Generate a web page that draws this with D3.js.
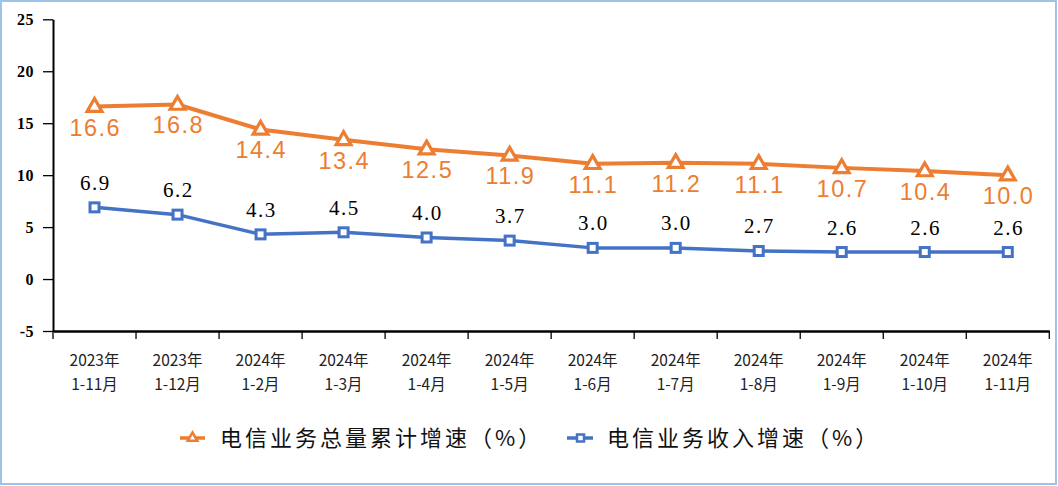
<!DOCTYPE html>
<html><head><meta charset="utf-8">
<script src="https://cdn.jsdelivr.net/npm/d3@7"></script>
<style>
html,body{margin:0;padding:0;background:#fff;}
svg{display:block;}
</style></head>
<body>
<svg id="chart" width="1058" height="486"></svg>
<script>
const years = ["2023年","2023年","2024年","2024年","2024年","2024年","2024年","2024年","2024年","2024年","2024年","2024年"];
const periods = ["1-11月","1-12月","1-2月","1-3月","1-4月","1-5月","1-6月","1-7月","1-8月","1-9月","1-10月","1-11月"];
const totalVolume = [16.6,16.8,14.4,13.4,12.5,11.9,11.1,11.2,11.1,10.7,10.4,10.0];
const revenue = [6.9,6.2,4.3,4.5,4.0,3.7,3.0,3.0,2.7,2.6,2.6,2.6];
const yTicks = [-5,0,5,10,15,20,25];
const seriesNames = ["电信业务总量累计增速（%）","电信业务收入增速（%）"];

const orange = "#ED7D31", blue = "#4472C4";
const svg = d3.select("#chart");
const idx = d3.range(years.length);

// border
svg.append("rect").attr("x",1).attr("y",1).attr("width",1055).attr("height",483)
  .attr("fill","#fff").attr("stroke","#9dc3e6").attr("stroke-width",2);

const x = d3.scaleBand().domain(idx).range([53,1049.3]).padding(0);
const y = d3.scaleLinear().domain([-5,25]).range([331,19.3]);
const cx = i => x(i) + x.bandwidth()/2;

// Y axis
const yAxis = svg.append("g").attr("transform","translate(53,0)")
  .call(d3.axisLeft(y).tickValues(yTicks).tickSize(10).tickSizeOuter(0).tickFormat(d => String(d)));
yAxis.select(".domain").attr("stroke","#000").attr("stroke-width",2);
yAxis.selectAll(".tick line").attr("stroke","#000").attr("stroke-width",1.3);
yAxis.selectAll(".tick text").attr("x",-19).attr("fill","#000")
  .style("font-family","'Liberation Serif','Times New Roman',serif").style("font-weight","bold")
  .style("font-size","16px").style("letter-spacing","0.5px");

// X axis
const xAxis = svg.append("g").attr("transform","translate(0,331)")
  .call(d3.axisBottom(x).tickSize(0).tickFormat(""));
xAxis.select(".domain").attr("stroke","#000").attr("stroke-width",2.5);
xAxis.selectAll(".tick").remove();
// boundary ticks
const bounds = d3.range(years.length+1).map(i => i===years.length ? x.range()[1] : x(i));
svg.append("g").selectAll("line").data(bounds).join("line")
  .attr("x1",d=>d).attr("x2",d=>d).attr("y1",331).attr("y2",339)
  .attr("stroke","#000").attr("stroke-width",1.3);
const xl = svg.append("g").selectAll("text").data(idx).join("text")
  .attr("x",cx).attr("text-anchor","middle").attr("fill","#222")
  .style("font-family","'Noto Sans CJK SC',sans-serif").style("font-size","15.5px");
xl.append("tspan").attr("x",cx).attr("y",366).text(i=>years[i]);
xl.append("tspan").attr("x",cx).attr("y",390).text(i=>periods[i]);

// lines
const line = d3.line().x((d,i)=>cx(i)).y(d=>y(d));
svg.append("path").datum(totalVolume).attr("d",line).attr("fill","none")
  .attr("stroke",orange).attr("stroke-width",4).attr("stroke-linejoin","round");
svg.append("path").datum(revenue).attr("d",line).attr("fill","none")
  .attr("stroke",blue).attr("stroke-width",3.5).attr("stroke-linejoin","round");

// markers
const tri = d3.symbol().type(d3.symbolTriangle).size(95);
svg.append("g").selectAll("path").data(totalVolume).join("path")
  .attr("d",tri).attr("transform",(d,i)=>`translate(${cx(i)},${y(d)+0.5})`)
  .attr("fill","#fff").attr("stroke",orange).attr("stroke-width",3.2);
svg.append("g").selectAll("rect").data(revenue).join("rect")
  .attr("x",(d,i)=>cx(i)-4.5).attr("y",d=>y(d)-4.5).attr("width",9).attr("height",9)
  .attr("fill","#fff").attr("stroke",blue).attr("stroke-width",3);

// labels
svg.append("g").selectAll("text").data(totalVolume).join("text")
  .attr("x",(d,i)=>cx(i)+0.75).attr("y",d=>y(d)+29).attr("text-anchor","middle")
  .attr("fill",orange).style("font-family","'Liberation Sans',Arial,sans-serif")
  .style("font-size","23.5px").style("letter-spacing","1.5px").text(d=>d3.format(".1f")(d));
svg.append("g").selectAll("text").data(revenue).join("text")
  .attr("x",(d,i)=>cx(i)+0.75).attr("y",d=>y(d)-17.5).attr("text-anchor","middle")
  .attr("fill","#000").style("font-family","'Liberation Serif','Times New Roman',serif")
  .style("font-size","21px").style("letter-spacing","1.5px").text(d=>d3.format(".1f")(d));

// legend
const lg = svg.append("g");
const ly = 438;
// orange item
lg.append("line").attr("x1",180).attr("x2",205).attr("y1",ly).attr("y2",ly)
  .attr("stroke",orange).attr("stroke-width",3.5);
lg.append("path").attr("d",d3.symbol().type(d3.symbolTriangle).size(40))
  .attr("transform",`translate(192.5,${ly})`).attr("fill","#fff").attr("stroke",orange).attr("stroke-width",2.5);
lg.append("text").attr("x",220).attr("y",ly).attr("dy","0.36em").attr("fill","#111")
  .style("font-family","'Noto Sans CJK SC',sans-serif").style("font-size","22px").style("letter-spacing","3px")
  .text(seriesNames[0]);
// blue item
lg.append("line").attr("x1",567).attr("x2",593).attr("y1",ly).attr("y2",ly)
  .attr("stroke",blue).attr("stroke-width",3.5);
lg.append("rect").attr("x",577).attr("y",ly-3.5).attr("width",7).attr("height",7)
  .attr("fill","#fff").attr("stroke",blue).attr("stroke-width",2.5);
lg.append("text").attr("x",607).attr("y",ly).attr("dy","0.36em").attr("fill","#111")
  .style("font-family","'Noto Sans CJK SC',sans-serif").style("font-size","22px").style("letter-spacing","3px")
  .text(seriesNames[1]);
</script>
</body></html>
